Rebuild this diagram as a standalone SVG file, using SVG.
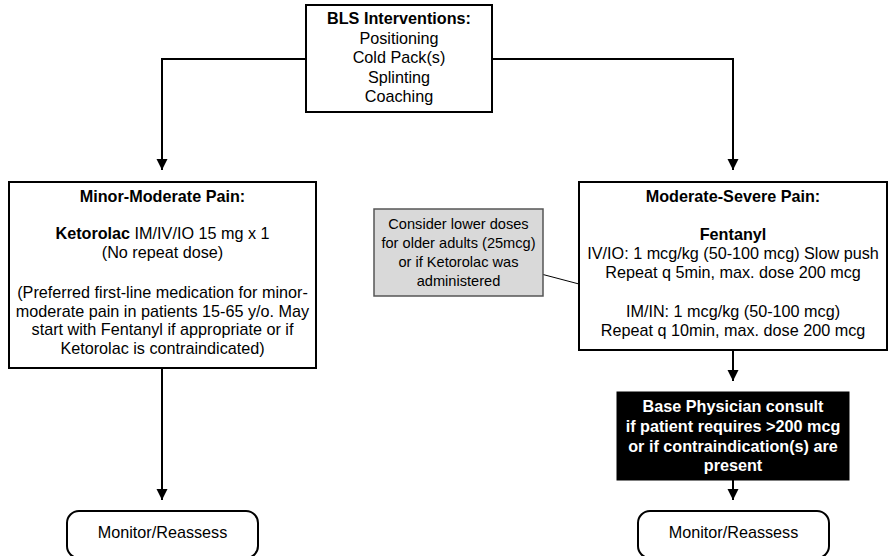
<svg xmlns="http://www.w3.org/2000/svg" width="893" height="556" viewBox="0 0 893 556">
<defs>
<marker id="arr" markerWidth="11" markerHeight="12" refX="11" refY="5.5" orient="auto" markerUnits="userSpaceOnUse">
<path d="M0,0 L11,5.5 L0,11 Z" fill="#000"/>
</marker>
<style>
.box{fill:#fff;stroke:#000;stroke-width:2}
.t{font-family:"Liberation Sans",Arial,sans-serif;font-size:16.2px;fill:#000;text-anchor:middle}
.b{font-weight:bold}
.g{font-family:"Liberation Sans",Arial,sans-serif;font-size:14.6px;fill:#000;text-anchor:middle}
.w{fill:#fff}
.conn{fill:none;stroke:#000;stroke-width:2}
</style>
</defs>
<rect width="893" height="556" fill="#fff"/>
<g id="connectors">
<path class="conn" d="M306,59 H162 V170" marker-end="url(#arr)"/>
<path class="conn" d="M492,59 H733 V170" marker-end="url(#arr)"/>
<path class="conn" d="M162,368 V500" marker-end="url(#arr)"/>
<path class="conn" d="M733,350 V381" marker-end="url(#arr)"/>
<path class="conn" d="M733,480 V500" marker-end="url(#arr)"/>
<path d="M543,274.5 L579,284" fill="none" stroke="#000" stroke-width="1"/>
</g>
<g id="bls">
<rect class="box" x="306" y="5" width="186" height="107"/>
<text class="t b" x="399" y="24">BLS Interventions:</text>
<text class="t" x="399" y="43.5">Positioning</text>
<text class="t" x="399" y="63">Cold Pack(s)</text>
<text class="t" x="399" y="82.5">Splinting</text>
<text class="t" x="399" y="102">Coaching</text>
</g>
<g id="minor">
<rect class="box" x="9" y="182" width="307" height="186"/>
<text class="t b" x="162.5" y="202">Minor-Moderate Pain:</text>
<text class="t" x="162.5" y="239"><tspan class="b">Ketorolac</tspan> IM/IV/IO 15 mg x 1</text>
<text class="t" x="162.5" y="257.5">(No repeat dose)</text>
<text class="t" x="162.5" y="298">(Preferred first-line medication for minor-</text>
<text class="t" x="162.5" y="316.5">moderate pain in patients 15-65 y/o. May</text>
<text class="t" x="162.5" y="335">start with Fentanyl if appropriate or if</text>
<text class="t" x="162.5" y="353.5">Ketorolac is contraindicated)</text>
</g>
<g id="note">
<rect x="374" y="209" width="169" height="87" fill="#d9d9d9" stroke="#555" stroke-width="1.5"/>
<text class="g" x="458.5" y="229">Consider lower doses</text>
<text class="g" x="458.5" y="248">for older adults (25mcg)</text>
<text class="g" x="458.5" y="267">or if Ketorolac was</text>
<text class="g" x="458.5" y="286">administered</text>
</g>
<g id="severe">
<rect class="box" x="579" y="182" width="308" height="168"/>
<text class="t b" x="733" y="202">Moderate-Severe Pain:</text>
<text class="t b" x="733" y="240">Fentanyl</text>
<text class="t" x="733" y="259">IV/IO: 1 mcg/kg (50-100 mcg) Slow push</text>
<text class="t" x="733" y="278">Repeat q 5min, max. dose 200 mcg</text>
<text class="t" x="733" y="317">IM/IN: 1 mcg/kg (50-100 mcg)</text>
<text class="t" x="733" y="336">Repeat q 10min, max. dose 200 mcg</text>
</g>
<g id="consult">
<rect x="617" y="392" width="232" height="88" fill="#000" stroke="#000" stroke-width="1"/>
<text class="t b w" x="733" y="412">Base Physician consult</text>
<text class="t b w" x="733" y="432">if patient requires &gt;200 mcg</text>
<text class="t b w" x="733" y="452">or if contraindication(s) are</text>
<text class="t b w" x="733" y="471">present</text>
</g>
<g id="monitor-left">
<rect class="box" x="67" y="511" width="191" height="47" rx="12" ry="12"/>
<text class="t" x="162.5" y="538">Monitor/Reassess</text>
</g>
<g id="monitor-right">
<rect class="box" x="638" y="511" width="191" height="47" rx="12" ry="12"/>
<text class="t" x="733.5" y="538">Monitor/Reassess</text>
</g>
</svg>
